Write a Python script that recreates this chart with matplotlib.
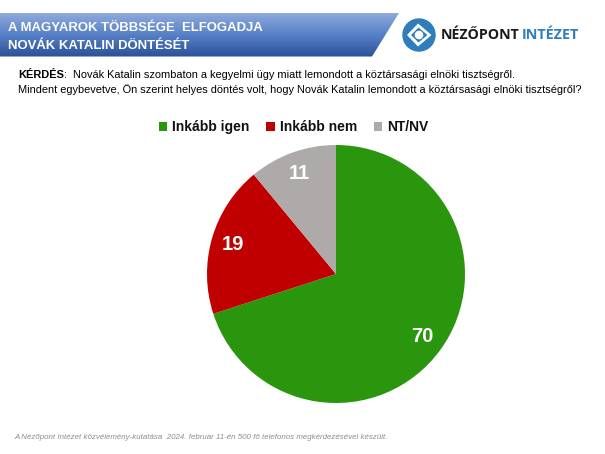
import numpy as np
import matplotlib
matplotlib.use("Agg")
import matplotlib.pyplot as plt
from matplotlib.patches import Polygon, Circle

plt.rcParams['font.family'] = ['Liberation Sans', 'DejaVu Sans']

W, H = 605, 454

# adatok
categories = ['Inkább igen', 'Inkább nem', 'NT/NV']
values = [70, 19, 11]
colors = ['#2A960E', '#C00000', '#AEAAAA']

title_lines = ['A MAGYAROK TÖBBSÉGE  ELFOGADJA', 'NOVÁK KATALIN DÖNTÉSÉT']
question_label = 'KÉRDÉS'
question_1 = ':  Novák Katalin szombaton a kegyelmi ügy miatt lemondott a köztársasági elnöki tisztségről.'
question_2 = 'Mindent egybevetve, Ön szerint helyes döntés volt, hogy Novák Katalin lemondott a köztársasági elnöki tisztségről?'
footnote = 'A Nézőpont Intézet közvélemény-kutatása  2024. február 11-én 500 fő telefonos megkérdezésével készült.'

fig = plt.figure(figsize=(W / 100, H / 100), dpi=100, facecolor='white')

# háttér tengely pixel koordinátákban
bg = fig.add_axes([0, 0, 1, 1])
bg.set_xlim(0, W)
bg.set_ylim(H, 0)
bg.axis('off')

# fejléc sáv, színátmenettel
banner = Polygon([(0, 13), (399, 13), (372, 56.5), (0, 56.5)], closed=True,
                 facecolor='none', edgecolor='none')
bg.add_patch(banner)
grad_top = np.array(matplotlib.colors.to_rgb('#8FAADC'))
grad_mid = np.array(matplotlib.colors.to_rgb('#5680C6'))
grad_bot = np.array(matplotlib.colors.to_rgb('#2B5197'))
t = np.linspace(0, 1, 64)
grad = np.stack([np.interp(t, [0, 0.5, 1], [grad_top[i], grad_mid[i], grad_bot[i]]) for i in range(3)], axis=-1)[:, None, :]
im = bg.imshow(grad, extent=(0, 400, 57, 13), aspect='auto', zorder=1)
im.set_clip_path(banner)
bg.set_xlim(0, W)
bg.set_ylim(H, 0)

bg.text(8, 28, title_lines[0], color='white', fontsize=9.45, fontweight='bold',
        va='center', ha='left', zorder=2)
bg.text(8, 46, title_lines[1], color='white', fontsize=9.45, fontweight='bold',
        va='center', ha='left', zorder=2)

# logó
logo_blue = '#2E7DBD'
bg.add_patch(Circle((419, 35), 16, color=logo_blue, zorder=2))
bg.add_patch(Polygon([(407, 35), (418, 23.5), (431.5, 35), (418, 46.5)], closed=True,
                     facecolor='white', edgecolor='none', zorder=3))
bg.add_patch(Polygon([(411, 35), (418.5, 27.5), (427.5, 35), (418.5, 42.5)], closed=True,
                     facecolor=logo_blue, edgecolor='none', zorder=4))
bg.add_patch(Circle((419, 35), 3.6, color='white', zorder=5))
bg.text(441, 35, 'NÉZŐPONT', color='#1A1A1A', fontsize=10.2, fontweight='bold',
        family=['Open Sans', 'DejaVu Sans'], va='center', ha='left')
bg.text(522, 35, 'INTÉZET', color=logo_blue, fontsize=10.4, fontweight='bold',
        family=['Open Sans', 'DejaVu Sans'], va='center', ha='left')

# kérdés
lab = bg.text(18, 75, question_label, color='black', fontsize=7.95, fontweight='bold',
              va='center', ha='left')
fig.canvas.draw()
lab_end = lab.get_window_extent().x1
bg.text(lab_end, 75, question_1, color='black', fontsize=7.95, va='center', ha='left')
bg.text(18, 90, question_2, color='black', fontsize=7.95, va='center', ha='left')

# lábjegyzet
bg.text(14, 437.5, footnote, color='#8C8C8C', fontsize=5.7, style='italic',
        va='center', ha='left')

# kör diagram
cx, cy, r = 336, 274, 129
ax = fig.add_axes([(cx - r) / W, 1 - (cy + r) / H, 2 * r / W, 2 * r / H])
wedges, _, autotexts = ax.pie(values, colors=colors, startangle=90, counterclock=False,
                              radius=1, autopct='%.0f', pctdistance=0.83,
                              textprops=dict(color='white', fontsize=14.5, fontweight='bold'))
ax.set_xlim(-1, 1)
ax.set_ylim(-1, 1)

# jelmagyarázat
leg = fig.legend(wedges, categories, loc='center', bbox_to_anchor=(293.5 / W, 1 - 127 / H),
                 ncol=3, frameon=False, handlelength=0.6, handleheight=0.6,
                 handletextpad=0.36, columnspacing=1.2, borderpad=0,
                 prop=dict(family=['Liberation Sans'], weight='bold', size=10))
for txt in leg.get_texts():
    txt.set_color('#111111')

fig.savefig('out.png', dpi=100)
